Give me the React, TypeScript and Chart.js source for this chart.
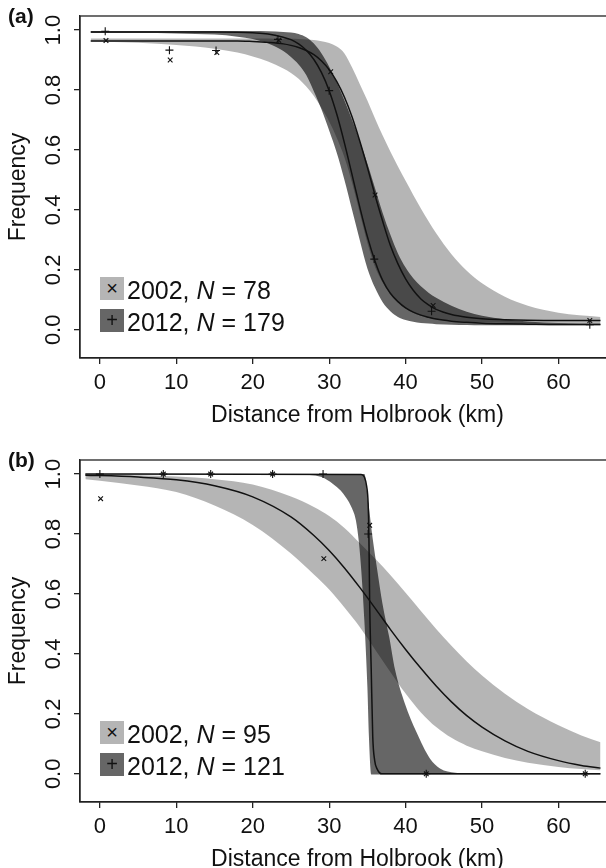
import React, { useEffect, useRef } from 'react';
import { Chart, registerables } from 'chart.js';

Chart.register(...registerables);

const FONT = "'Liberation Sans', Arial, Helvetica, sans-serif";
const LIGHT = 'rgba(0,0,0,0.29)';
const DARK = 'rgba(0,0,0,0.6)';
const INK = '#111';

// ---- shared axes ----
const xTicks = [0, 10, 20, 30, 40, 50, 60];
const yTicks = [0, 0.2, 0.4, 0.6, 0.8, 1.0];
const xTitle = 'Distance from Holbrook (km)';
const yTitle = 'Frequency';
const xMin = -2.6;
const xMax = 70;
const yMin = -0.094;
const yMax = 1.047;

// ---- panel (a) ----
const aX = [-1.2, 5, 10, 15, 18, 20, 22, 24, 25, 26, 27, 28, 29, 30, 31, 32, 33, 34, 35, 36, 37, 38, 39, 40, 41, 42, 43, 44, 46, 48, 50, 53, 56, 60, 65.5];
const aFit2012 = [0.994, 0.994, 0.994, 0.994, 0.993, 0.991, 0.987, 0.976, 0.968, 0.954, 0.933, 0.902, 0.858, 0.798, 0.719, 0.623, 0.517, 0.41, 0.311, 0.229, 0.165, 0.122, 0.094, 0.073, 0.059, 0.049, 0.042, 0.036, 0.029, 0.025, 0.022, 0.02, 0.019, 0.018, 0.018];
const aFit2002 = [0.964, 0.964, 0.964, 0.964, 0.964, 0.962, 0.959, 0.954, 0.949, 0.942, 0.932, 0.918, 0.897, 0.868, 0.828, 0.776, 0.71, 0.63, 0.542, 0.449, 0.362, 0.282, 0.22, 0.17, 0.132, 0.103, 0.083, 0.068, 0.051, 0.042, 0.037, 0.034, 0.032, 0.031, 0.031];
const aCI2002Hi = [0.972, 0.972, 0.972, 0.972, 0.972, 0.972, 0.972, 0.971, 0.971, 0.97, 0.969, 0.967, 0.963, 0.957, 0.945, 0.922, 0.875, 0.82, 0.765, 0.705, 0.648, 0.595, 0.545, 0.497, 0.45, 0.405, 0.362, 0.322, 0.252, 0.197, 0.155, 0.11, 0.08, 0.057, 0.043];
const aCI2002Lo = [0.962, 0.958, 0.95, 0.938, 0.925, 0.912, 0.895, 0.872, 0.857, 0.838, 0.812, 0.78, 0.74, 0.695, 0.64, 0.575, 0.49, 0.39, 0.29, 0.21, 0.158, 0.12, 0.092, 0.071, 0.057, 0.047, 0.04, 0.035, 0.03, 0.027, 0.025, 0.024, 0.023, 0.022, 0.021];
const aCI2012Hi = [0.997, 0.997, 0.997, 0.997, 0.997, 0.997, 0.996, 0.994, 0.992, 0.987, 0.976, 0.955, 0.922, 0.878, 0.825, 0.765, 0.7, 0.63, 0.555, 0.472, 0.39, 0.318, 0.255, 0.208, 0.172, 0.145, 0.124, 0.107, 0.08, 0.06, 0.047, 0.035, 0.028, 0.023, 0.021];
const aCI2012Lo = [0.99, 0.99, 0.989, 0.985, 0.978, 0.97, 0.955, 0.93, 0.91, 0.885, 0.85, 0.795, 0.735, 0.665, 0.59, 0.5, 0.4, 0.3, 0.205, 0.14, 0.092, 0.062, 0.043, 0.033, 0.027, 0.023, 0.021, 0.019, 0.017, 0.016, 0.015, 0.015, 0.015, 0.015, 0.015];
const aPts2002X = [0.8, 9.2, 15.3, 23.4, 30.2, 36.0, 43.6, 64.1];
const aPts2002Y = [0.965, 0.9, 0.925, 0.966, 0.861, 0.45, 0.081, 0.031];
const aPts2012X = [0.7, 9.1, 15.2, 23.3, 30.0, 35.9, 43.4, 64.1];
const aPts2012Y = [0.996, 0.933, 0.932, 0.969, 0.798, 0.236, 0.062, 0.017];
const aLegend = ['2002, ', '78', '2012, ', '179'];

// ---- panel (b) ----
const bX = [-1.9, 0, 5, 10, 15, 20, 25, 28, 30, 32, 34, 36, 38, 40, 42, 44, 46, 48, 50, 53, 56, 60, 63, 65.5];
const bFit2002 = [0.996, 0.995, 0.99, 0.981, 0.961, 0.924, 0.857, 0.795, 0.745, 0.687, 0.622, 0.553, 0.482, 0.415, 0.352, 0.293, 0.24, 0.194, 0.156, 0.11, 0.075, 0.044, 0.028, 0.019];
const bCI2002Hi = [0.999, 0.998, 0.996, 0.992, 0.983, 0.965, 0.925, 0.89, 0.86, 0.82, 0.77, 0.718, 0.663, 0.604, 0.543, 0.483, 0.427, 0.375, 0.328, 0.267, 0.216, 0.162, 0.128, 0.105];
const bCI2002Lo = [0.983, 0.978, 0.962, 0.94, 0.895, 0.83, 0.735, 0.665, 0.615, 0.555, 0.49, 0.415, 0.34, 0.268, 0.205, 0.156, 0.12, 0.094, 0.075, 0.053, 0.037, 0.023, 0.016, 0.012];
const bFit2012X = [-1.9, 34.2, 34.6, 34.9, 35.1, 35.2, 35.3, 35.5, 35.7, 35.95, 36.3, 36.9, 40, 65.5];
const bFit2012Y = [1.0, 0.999, 0.99, 0.96, 0.9, 0.79, 0.57, 0.35, 0.125, 0.045, 0.015, 0.0, 0.0, 0.0];
const bCI2012HiX = [-1.9, 34.6, 35.15, 35.67, 36.3, 36.97, 37.85, 38.63, 39.9, 41.4, 43.2, 44.5, 46.5, 50, 65.5];
const bCI2012HiY = [1.0, 1.0, 0.9, 0.789, 0.678, 0.568, 0.457, 0.346, 0.235, 0.14, 0.05, 0.018, 0.004, 0.0, 0.0];
const bCI2012LoX = [-1.9, 25, 27.4, 29, 30.5, 31.5, 32.2, 33, 33.5, 33.9, 34.2, 34.6, 35.0, 35.2, 35.5, 40, 65.5];
const bCI2012LoY = [0.999, 0.999, 0.997, 0.99, 0.967, 0.945, 0.922, 0.885, 0.845, 0.77, 0.678, 0.512, 0.29, 0.124, -0.002, -0.002, -0.002];
const bPts2002X = [0.1, 8.3, 14.5, 22.6, 29.3, 35.3, 42.7, 63.5];
const bPts2002Y = [0.918, 1.0, 1.0, 1.0, 0.718, 0.829, 0.0, 0.0];
const bPts2012X = [0.0, 8.3, 14.5, 22.6, 29.2, 35.1, 42.7, 63.5];
const bPts2012Y = [1.0, 1.0, 1.0, 1.0, 1.0, 0.8, 0.0, 0.0];
const bLegend = ['2002, ', '95', '2012, ', '121'];

type Panel = {
  tag: string;
  top: number;
  canvasH: number;
  padTop: number;
  xAxisH: number;
  xTitlePad: number;
  legendTop: number;
  legend: string[];
  fit2012X: number[]; fit2012Y: number[];
  fit2002X: number[]; fit2002Y: number[];
  ci2002HiX: number[]; ci2002HiY: number[];
  ci2002LoX: number[]; ci2002LoY: number[];
  ci2012HiX: number[]; ci2012HiY: number[];
  ci2012LoX: number[]; ci2012LoY: number[];
  p2002X: number[]; p2002Y: number[];
  p2012X: number[]; p2012Y: number[];
};

const panels: Panel[] = [
  {
    tag: '(a)', top: 0, canvasH: 434, padTop: 16, xAxisH: 76, xTitlePad: 5, legendTop: 277, legend: aLegend,
    fit2012X: aX, fit2012Y: aFit2012, fit2002X: aX, fit2002Y: aFit2002,
    ci2002HiX: aX, ci2002HiY: aCI2002Hi, ci2002LoX: aX, ci2002LoY: aCI2002Lo,
    ci2012HiX: aX, ci2012HiY: aCI2012Hi, ci2012LoX: aX, ci2012LoY: aCI2012Lo,
    p2002X: aPts2002X, p2002Y: aPts2002Y, p2012X: aPts2012X, p2012Y: aPts2012Y,
  },
  {
    tag: '(b)', top: 434, canvasH: 450, padTop: 26, xAxisH: 82, xTitlePad: 11, legendTop: 287, legend: bLegend,
    fit2012X: bFit2012X, fit2012Y: bFit2012Y, fit2002X: bX, fit2002Y: bFit2002,
    ci2002HiX: bX, ci2002HiY: bCI2002Hi, ci2002LoX: bX, ci2002LoY: bCI2002Lo,
    ci2012HiX: bCI2012HiX, ci2012HiY: bCI2012HiY, ci2012LoX: bCI2012LoX, ci2012LoY: bCI2012LoY,
    p2002X: bPts2002X, p2002Y: bPts2002Y, p2012X: bPts2012X, p2012Y: bPts2012Y,
  },
];

const pts = (xs: number[], ys: number[]) => xs.map((x, i) => ({ x, y: ys[i] }));

const framePlugin = {
  id: 'frame',
  afterDatasetsDraw(chart: any) {
    const { ctx, chartArea } = chart;
    ctx.save();
    ctx.strokeStyle = '#222';
    ctx.lineWidth = 1.3;
    ctx.strokeRect(chartArea.left, chartArea.top, chartArea.right - chartArea.left, chartArea.bottom - chartArea.top);
    ctx.restore();
  },
};

function edge(label: string, data: any[], fill: any, color: string, order: number) {
  return {
    label, data, fill, backgroundColor: color, borderColor: 'rgba(0,0,0,0)', borderWidth: 1,
    pointRadius: 0, pointHoverRadius: 0, cubicInterpolationMode: 'monotone', order,
  };
}

function makeConfig(p: Panel) {
  const datasets: any[] = [
    { label: '2012 obs', data: pts(p.p2012X, p.p2012Y), showLine: false, pointStyle: 'cross', pointRadius: 4, pointBorderWidth: 1.1, borderColor: INK, backgroundColor: INK, order: 0 },
    { label: '2002 obs', data: pts(p.p2002X, p.p2002Y), showLine: false, pointStyle: 'crossRot', pointRadius: 3.3, pointBorderWidth: 1.1, borderColor: INK, backgroundColor: INK, order: 0 },
    { label: '2012 fit', data: pts(p.fit2012X, p.fit2012Y), borderColor: INK, borderWidth: 1.5, pointRadius: 0, fill: false, cubicInterpolationMode: 'monotone', order: 1 },
    { label: '2002 fit', data: pts(p.fit2002X, p.fit2002Y), borderColor: INK, borderWidth: 1.5, pointRadius: 0, fill: false, cubicInterpolationMode: 'monotone', order: 1 },
    edge('2002 CI low', pts(p.ci2002LoX, p.ci2002LoY), false, LIGHT, 3),
    edge('2002 CI high', pts(p.ci2002HiX, p.ci2002HiY), 4, LIGHT, 3),
    edge('2012 CI low', pts(p.ci2012LoX, p.ci2012LoY), false, DARK, 2),
    edge('2012 CI high', pts(p.ci2012HiX, p.ci2012HiY), 6, DARK, 2),
  ];
  const grid = { display: true, drawOnChartArea: false, drawTicks: true, tickLength: 6, color: '#222', lineWidth: 1.3 };
  const border = { display: true, color: '#222', width: 1.3 };
  return {
    type: 'line',
    data: { datasets },
    plugins: [framePlugin],
    options: {
      animation: false,
      responsive: false,
      events: [],
      layout: { padding: { left: 0, right: 4, top: p.padTop, bottom: 0 } },
      plugins: { legend: { display: false }, tooltip: { enabled: false } },
      scales: {
        x: {
          type: 'linear', min: xMin, max: xMax,
          afterBuildTicks: (s: any) => { s.ticks = xTicks.map((v) => ({ value: v })); },
          afterFit: (s: any) => { s.height = p.xAxisH; s.paddingLeft = 0; s.paddingRight = 0; },
          ticks: { autoSkip: false, minRotation: 0, maxRotation: 0, padding: 6, color: INK, font: { family: FONT, size: 22 }, callback: (v: any) => String(v) },
          grid, border,
          title: { display: true, text: xTitle, color: INK, font: { family: FONT, size: 23 }, padding: { top: 0, bottom: p.xTitlePad } },
        },
        y: {
          type: 'linear', min: yMin, max: yMax,
          afterBuildTicks: (s: any) => { s.ticks = yTicks.map((v) => ({ value: v })); },
          afterFit: (s: any) => { s.width = 80; s.paddingTop = 0; s.paddingBottom = 0; },
          ticks: { autoSkip: false, minRotation: 90, maxRotation: 90, crossAlign: 'center', padding: 5, color: INK, font: { family: FONT, size: 22 }, callback: (v: any) => Number(v).toFixed(1) },
          grid, border,
          title: { display: true, text: yTitle, color: INK, font: { family: FONT, size: 23 }, padding: { top: 5, bottom: 0 } },
        },
      },
    },
  };
}

function PanelView({ p }: { p: Panel }) {
  const ref = useRef<HTMLCanvasElement>(null);
  useEffect(() => {
    const chart = new Chart(ref.current as HTMLCanvasElement, makeConfig(p) as any);
    return () => chart.destroy();
  }, [p]);
  const boxStyle = (top: number, bg: string): React.CSSProperties => ({
    position: 'absolute', left: 100, top, width: 24, height: 23, background: bg,
    display: 'flex', alignItems: 'center', justifyContent: 'center',
    fontFamily: FONT, fontSize: 20, lineHeight: '23px', color: INK,
  });
  const textStyle = (top: number): React.CSSProperties => ({
    position: 'absolute', left: 127, top, height: 23, lineHeight: '23px',
    fontFamily: FONT, fontSize: 25, color: INK, whiteSpace: 'nowrap',
  });
  return (
    <div style={{ position: 'absolute', left: 0, top: p.top, width: 606, height: 434, overflow: 'hidden' }}>
      <canvas ref={ref} width={640} height={p.canvasH} style={{ display: 'block' }} />
      <div style={{ position: 'absolute', left: 8, top: p.padTop - 11, fontFamily: FONT, fontWeight: 'bold', fontSize: 21, lineHeight: '21px', color: INK }}>{p.tag}</div>
      <div style={boxStyle(p.legendTop, '#b5b5b5')}>×</div>
      <div style={textStyle(p.legendTop + 2)}>{p.legend[0]}<i>N</i> = {p.legend[1]}</div>
      <div style={boxStyle(p.legendTop + 32, '#666666')}>+</div>
      <div style={textStyle(p.legendTop + 34)}>{p.legend[2]}<i>N</i> = {p.legend[3]}</div>
    </div>
  );
}

export default function App() {
  return (
    <div style={{ position: 'absolute', left: 0, top: 0, width: 606, height: 868, overflow: 'hidden', background: '#fff' }}>
      {panels.map((p) => <PanelView key={p.tag} p={p} />)}
    </div>
  );
}
